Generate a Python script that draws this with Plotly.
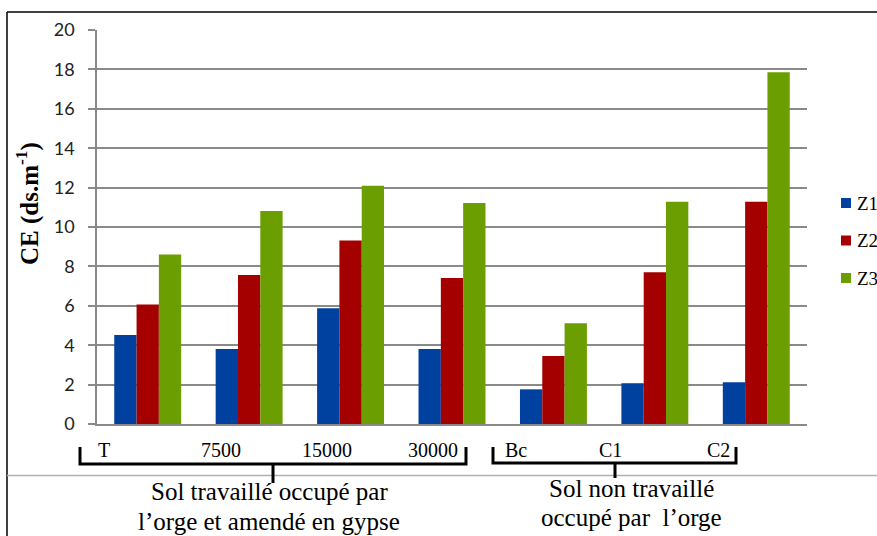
import plotly.graph_objects as go

categories = ["T", "7500", "15000", "30000", "Bc", "C1", "C2"]
z1 = [4.52, 3.81, 5.87, 3.81, 1.76, 2.07, 2.12]
z2 = [6.07, 7.56, 9.32, 7.41, 3.45, 7.70, 11.28]
z3 = [8.61, 10.81, 12.10, 11.22, 5.11, 11.28, 17.85]
series_names = ["Z1", "Z2", "Z3"]
series_colors = ["#0041A0", "#A50000", "#6B9E00"]
group_labels = [["Sol travaillé occupé par", "l’orge et amendé en gypse"],
                ["Sol non travaillé", "occupé par  l’orge"]]

W, H = 877, 536
L, R, T, B = 97, 70, 30, 112
pw, ph = W - L - R, H - T - B


def px(x):
    return (x - L) / pw


def py(y):
    return (H - B - y) / ph


idx = list(range(len(categories)))

fig = go.Figure()
for name, vals, col in zip(series_names, [z1, z2, z3], series_colors):
    fig.add_trace(go.Bar(x=idx, y=vals, name=name, marker_color=col,
                         marker_line_width=0, showlegend=False,
                         hovertext=categories))

shapes = []
annotations = []

# outer frame
shapes.append(dict(type="line", xref="paper", yref="paper", x0=px(7), x1=px(880),
                   y0=py(12), y1=py(12), line=dict(color="black", width=1.5)))
shapes.append(dict(type="line", xref="paper", yref="paper", x0=px(7), x1=px(7),
                   y0=py(12), y1=py(540), line=dict(color="black", width=1.5)))
shapes.append(dict(type="line", xref="paper", yref="paper", x0=px(7), x1=px(880),
                   y0=py(475.5), y1=py(475.5), line=dict(color="#b0b0b0", width=1.5)))

# braces
for (xa, xb, xm, ytop, ybar, ybot) in [(80, 466, 273, 447, 464, 483), (493, 736, 615, 447, 463, 478)]:
    path = (f"M {px(xa)},{py(ytop)} L {px(xa)},{py(ybar)} L {px(xb)},{py(ybar)} L {px(xb)},{py(ytop)} "
            f"M {px(xm)},{py(ybar)} L {px(xm)},{py(ybot)}")
    shapes.append(dict(type="path", xref="paper", yref="paper", path=path,
                       line=dict(color="black", width=3)))

# category labels (manually offset as in the reference)
label_shift = [-44, -28, -24, -19, -37, -44, -38]
for i, (cat, sh) in enumerate(zip(categories, label_shift)):
    annotations.append(dict(x=i, xref="x", y=py(450), yref="paper", text=cat,
                            showarrow=False, xshift=sh, xanchor="center", yanchor="middle",
                            font=dict(family="Liberation Serif", size=20, color="black")))

# group labels
for lines, cx, ys in [(group_labels[0], 269, [491, 521]), (group_labels[1], 631, [488, 517])]:
    for txt, yy in zip(lines, ys):
        annotations.append(dict(x=px(cx), xref="paper", y=py(yy), yref="paper", text=txt,
                                showarrow=False, xanchor="center", yanchor="middle",
                                font=dict(family="Liberation Serif", size=25, color="black")))

# y-axis title
annotations.append(dict(x=px(27), xref="paper", y=py(204), yref="paper",
                        text="<b>CE (ds.m<sup>-1</sup>)</b>", textangle=-90, showarrow=False,
                        xanchor="center", yanchor="middle",
                        font=dict(family="Liberation Serif", size=25, color="black")))

# legend
for i, (name, col) in enumerate(zip(series_names, series_colors)):
    yy = 203 + i * 37.5
    shapes.append(dict(type="rect", xref="paper", yref="paper", x0=px(841), x1=px(851),
                       y0=py(yy - 5), y1=py(yy + 5), fillcolor=col, line=dict(width=0)))
    annotations.append(dict(x=px(855), xref="paper", y=py(yy), yref="paper", text=name,
                            xanchor="left", yanchor="middle", showarrow=False,
                            font=dict(family="Liberation Serif", size=19, color="black")))

fig.update_layout(
    width=W, height=H,
    margin=dict(l=L, r=R, t=T, b=B, pad=0, autoexpand=False),
    paper_bgcolor="white", plot_bgcolor="white",
    barmode="group", bargap=0.34, bargroupgap=0,
    shapes=shapes, annotations=annotations,
    xaxis=dict(range=[-0.5, len(categories) - 0.5], tickvals=idx, ticktext=categories,
               showticklabels=False, ticks="", showgrid=False, showline=True,
               linecolor="#8a8a8a", linewidth=1.5, zeroline=False, automargin=False),
    yaxis=dict(range=[0, 20], dtick=2, showgrid=True, gridcolor="#8a8a8a", gridwidth=1.5,
               showline=True, linecolor="#8a8a8a", linewidth=1.5, ticks="outside",
               ticklen=7, tickcolor="#8a8a8a", tickwidth=1.5, zeroline=False,
               ticklabelstandoff=10, automargin=False,
               tickfont=dict(family="Lato", size=18, color="#222")),
)

fig.write_html("out.html", config={"displayModeBar": False},
               post_script="document.body.style.margin='0';document.body.style.overflow='hidden';")
